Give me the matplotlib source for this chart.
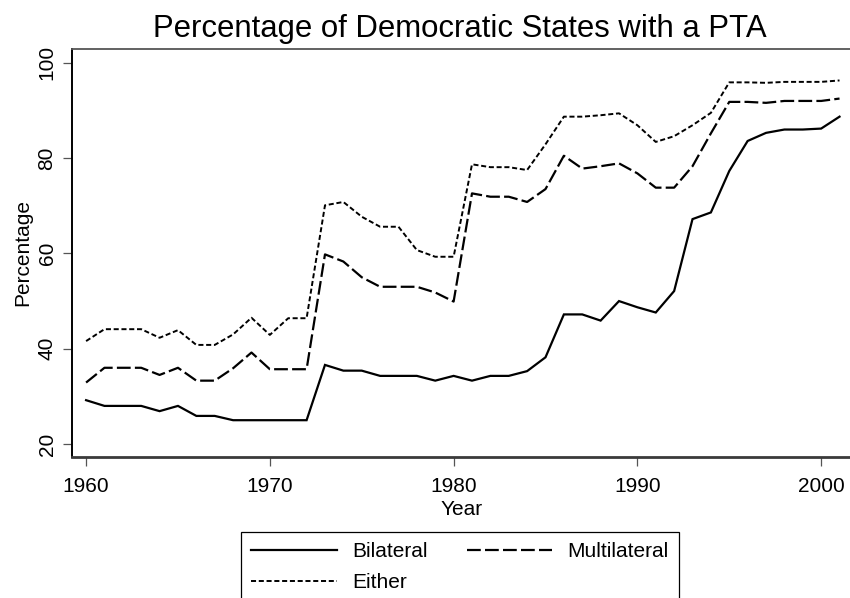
import matplotlib
matplotlib.use("Agg")
import matplotlib.pyplot as plt

plt.rcParams["font.family"] = ["Liberation Sans", "DejaVu Sans"]

years = list(range(1960, 2002))

bilateral = [29.2, 28.0, 28.0, 28.0, 26.9, 28.0, 25.9, 25.9, 25.0, 25.0,
             25.0, 25.0, 25.0, 36.6, 35.4, 35.4, 34.3, 34.3, 34.3, 33.3,
             34.3, 33.3, 34.3, 34.3, 35.3, 38.2, 47.2, 47.2, 45.9, 50.0,
             48.7, 47.6, 52.1, 67.2, 68.6, 77.3, 83.6, 85.3, 86.0, 86.0,
             86.2, 88.7]

multilateral = [32.9, 36.0, 36.0, 36.0, 34.5, 36.0, 33.3, 33.3, 35.9, 39.2,
                35.7, 35.7, 35.7, 59.8, 58.3, 55.0, 53.0, 53.0, 53.0, 51.8,
                49.9, 72.6, 71.9, 71.9, 70.8, 73.5, 80.5, 77.8, 78.3, 78.9,
                76.8, 73.8, 73.8, 78.3, 85.2, 91.8, 91.8, 91.6, 92.0, 92.0,
                92.0, 92.5]

either = [41.6, 44.1, 44.1, 44.1, 42.3, 43.9, 40.8, 40.8, 43.0, 46.5,
          42.9, 46.4, 46.4, 70.1, 70.8, 67.7, 65.6, 65.6, 60.7, 59.3,
          59.3, 78.7, 78.1, 78.1, 77.5, 82.9, 88.7, 88.7, 89.0, 89.4,
          86.9, 83.4, 84.6, 86.9, 89.5, 95.9, 95.9, 95.8, 96.0, 96.0,
          96.0, 96.3]

series_names = ["Bilateral", "Multilateral", "Either"]
x_ticks = [1960, 1970, 1980, 1990, 2000]
y_ticks = [20, 40, 60, 80, 100]

W, H = 850, 598
fig = plt.figure(figsize=(W / 100, H / 100), dpi=100)
fig.patch.set_facecolor("white")

left, top, bottom = 72.3, 49.0, 456.7
ax = fig.add_axes([left / W, 1 - bottom / H, 1 - left / W, (bottom - top) / H])

l1, = ax.plot(years, bilateral, color="black", lw=1.6, solid_joinstyle="miter",
              label=series_names[0])
l2, = ax.plot(years, multilateral, color="black", lw=1.6,
              linestyle=(0, (6.2, 1.9)), label=series_names[1])
l3, = ax.plot(years, either, color="black", lw=1.4,
              linestyle=(0, (2.6, 1.4)), label=series_names[2])

ax.set_xlim(1959.25, 2001.57)
ax.set_ylim(17.34, 102.9)
ax.set_xticks(x_ticks)
ax.set_yticks(y_ticks)

ax.spines["right"].set_visible(False)
ax.spines["left"].set_color("black")
ax.spines["left"].set_linewidth(1.4)
ax.spines["top"].set_color("#555555")
ax.spines["top"].set_linewidth(1.3)
ax.spines["bottom"].set_color("#3a3a3a")
ax.spines["bottom"].set_linewidth(2.0)

ax.tick_params(axis="x", direction="out", length=6.3, width=0.9, color="#555555",
               labelsize=15, pad=8)
ax.tick_params(axis="y", direction="out", length=6.3, width=0.9, color="#555555",
               labelsize=15, pad=5, labelrotation=90)
for lab in ax.get_yticklabels():
    lab.set_va("center")

ax.set_xlabel("Year", fontsize=15, labelpad=3)
ax.set_ylabel("Percentage", fontsize=15, labelpad=4)

fig.text(460 / W, 1 - 37 / H, "Percentage of Democratic States with a PTA",
         fontsize=22.4, ha="center", va="baseline")

# row-major order: Bilateral, Multilateral on the first row, Either below
leg = fig.legend(handles=[l1, l3, l2], ncol=2, loc="upper left",
                 bbox_to_anchor=(241 / W, 1 - 531.7 / H),
                 bbox_transform=fig.transFigure, borderaxespad=0,
                 fontsize=15, handlelength=4.1, handletextpad=0.72,
                 columnspacing=1.9, labelspacing=0.58, borderpad=0.5,
                 fancybox=False, framealpha=1, edgecolor="black")
leg.get_frame().set_linewidth(0.9)

fig.savefig("out.png", dpi=100, facecolor="white")
